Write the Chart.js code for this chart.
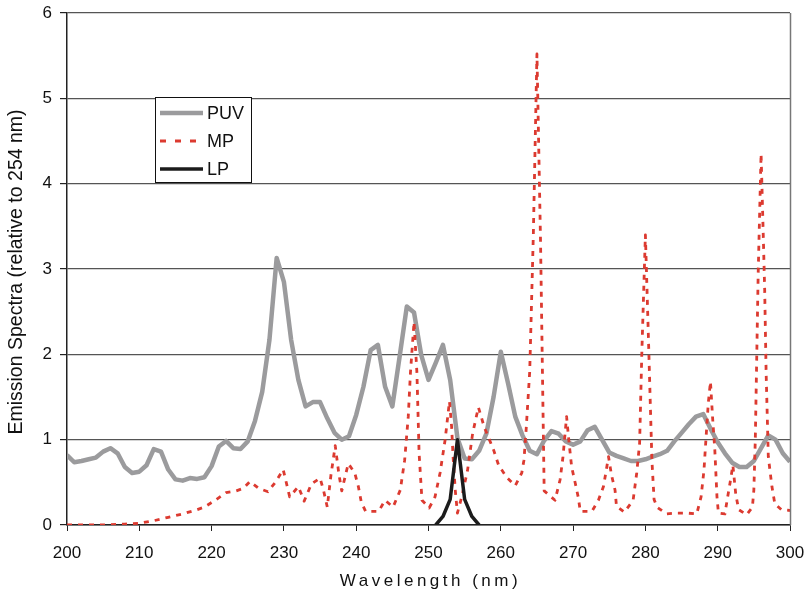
<!DOCTYPE html>
<html>
<head>
<meta charset="utf-8">
<script src="https://cdn.jsdelivr.net/npm/chart.js@4.4.1/dist/chart.umd.min.js"></script>
<style>
  body { margin: 0; background: #fff; }
  #chart { display: block; }
</style>
</head>
<body>
<canvas id="chart" width="808" height="599"></canvas>
<script>
// ---- data ----
const puvWl = [
  200, 201, 202, 203, 204, 205, 206, 207, 208, 209,
  210, 211, 212, 213, 214, 215, 216, 217, 218, 219,
  220, 221, 222, 223, 224, 225, 226, 227, 228, 229,
  230, 231, 232, 233, 234, 235, 236, 237, 238, 239,
  240, 241, 242, 243, 244, 245, 246, 247, 248, 249,
  250, 251, 252, 253, 254, 255, 256, 257, 258, 259,
  260, 261, 262, 263, 264, 265, 266, 267, 268, 269,
  270, 271, 272, 273, 274, 275, 276, 277, 278, 279,
  280, 281, 282, 283, 284, 285, 286, 287, 288, 289,
  290, 291, 292, 293, 294, 295, 296, 297, 298, 299, 300
];
const puvVal = [
  0.82, 0.735, 0.75, 0.77, 0.79, 0.86, 0.90, 0.84, 0.68, 0.61,
  0.625, 0.70, 0.89, 0.86, 0.65, 0.535, 0.52, 0.55, 0.54, 0.56,
  0.69, 0.92, 0.985, 0.90, 0.89, 0.98, 1.22, 1.56, 2.17, 3.13,
  2.85, 2.17, 1.70, 1.39, 1.44, 1.44, 1.25, 1.08, 1.00, 1.04,
  1.29, 1.62, 2.05, 2.11, 1.62, 1.39, 1.97, 2.56, 2.49, 1.99,
  1.70, 1.90, 2.11, 1.70, 1.02, 0.78, 0.77, 0.87, 1.07, 1.50,
  2.03, 1.66, 1.27, 1.05, 0.87, 0.83, 0.99, 1.10, 1.07, 0.98,
  0.94, 0.98, 1.11, 1.15, 1.00, 0.85, 0.81, 0.78, 0.75, 0.75,
  0.77, 0.80, 0.83, 0.87, 0.98, 1.08, 1.18, 1.27, 1.30, 1.13,
  0.97, 0.84, 0.73, 0.68, 0.68, 0.75, 0.90, 1.05, 1.00, 0.84, 0.74
];

const mpWl = [
  200, 205, 208, 210, 212, 214, 216, 218, 219, 220.5,
  222, 223.4, 224.4, 225.3, 226.5, 227.8, 228.9, 229.9, 230.8, 232,
  232.8, 233.8, 235, 235.5, 236, 236.5, 237.1, 237.6, 238, 238.9,
  239.8, 240.3, 240.7, 241.3, 243.1, 244, 245.1, 246.1, 246.7, 247.2,
  247.5, 248, 248.4, 248.7, 249.1, 250.1, 250.9, 251.6, 252.3, 252.9,
  253.2, 253.4, 253.7, 254, 254.6, 255.4, 256.1, 256.9, 257.7, 259,
  259.7, 260.8, 262, 262.9, 263.2, 263.5, 264, 264.5, 265, 265.5,
  266, 267.5, 268.2, 268.6, 269.1, 269.4, 269.8, 270.3, 270.7, 271,
  272.6, 273.5, 274.2, 274.9, 275.3, 275.8, 276, 277.1, 278.3, 278.8,
  279.2, 279.5, 280, 280.4, 280.9, 281.2, 281.6, 282.9, 284.4, 285.7,
  287.1, 287.7, 288.1, 288.4, 288.7, 289, 289.3, 289.6, 289.9, 290.1,
  291, 291.3, 291.7, 292.1, 292.5, 292.9, 294, 294.8, 295, 295.2,
  295.4, 295.6, 296, 296.3, 296.5, 296.7, 297, 297.5, 297.9, 298.8, 300
];
const mpVal = [
  0.00, 0.00, 0.01, 0.02, 0.05, 0.09, 0.13, 0.18, 0.21, 0.29,
  0.38, 0.40, 0.43, 0.51, 0.43, 0.39, 0.51, 0.65, 0.33, 0.45,
  0.28, 0.48, 0.55, 0.40, 0.21, 0.58, 0.93, 0.60, 0.40, 0.72,
  0.61, 0.45, 0.27, 0.16, 0.16, 0.29, 0.21, 0.41, 0.76, 1.27,
  1.78, 2.38, 1.78, 0.84, 0.29, 0.20, 0.33, 0.61, 1.00, 1.45,
  1.15, 0.80, 0.41, 0.14, 0.33, 0.64, 1.07, 1.38, 1.15, 0.88,
  0.70, 0.56, 0.46, 0.61, 0.76, 1.11, 1.80, 3.40, 5.52, 3.30,
  0.40, 0.29, 0.53, 0.80, 1.27, 1.00, 0.68, 0.49, 0.33, 0.16,
  0.16, 0.29, 0.45, 0.80, 0.59, 0.41, 0.22, 0.15, 0.29, 0.61,
  0.96, 2.00, 3.40, 2.25, 0.76, 0.30, 0.21, 0.13, 0.14, 0.14,
  0.13, 0.33, 0.64, 1.04, 1.43, 1.68, 1.25, 0.88, 0.33, 0.14,
  0.13, 0.29, 0.49, 0.70, 0.36, 0.18, 0.12, 0.21, 0.41, 1.00,
  1.97, 2.95, 4.35, 3.40, 2.75, 1.78, 0.80, 0.45, 0.25, 0.18, 0.17
];

const lpWl = [251, 252, 253, 254, 255, 256, 257];
const lpVal = [0, 0.10, 0.30, 1.00, 0.30, 0.10, 0];

const seriesNames = ["PUV", "MP", "LP"];
const xTitle = "Wavelength (nm)";
const yTitle = "Emission Spectra (relative to 254 nm)";

const toPoints = (xs, ys) => xs.map((x, i) => ({ x: x, y: ys[i] }));

// ---- styles ----
const puvColor = "#9b9b9d";
const mpColor = "#dc3a30";
const lpColor = "#1c1c1c";
const fontFam = "'Liberation Sans', Arial, sans-serif";

// titles, legend and right frame line drawn on top
const overlay = {
  id: "overlay",
  afterDraw(chart) {
    const ctx = chart.ctx;
    const a = chart.chartArea;
    ctx.save();

    // right frame line
    ctx.strokeStyle = "#777";
    ctx.lineWidth = 1.5;
    ctx.beginPath();
    ctx.moveTo(a.right + 0.5, a.top);
    ctx.lineTo(a.right + 0.5, a.bottom);
    ctx.stroke();

    // axis titles
    ctx.fillStyle = "#111";
    ctx.textAlign = "center";
    ctx.textBaseline = "middle";
    ctx.font = "17px " + fontFam;
    ctx.letterSpacing = "3.5px";
    ctx.fillText(xTitle, (a.left + a.right) / 2 + 2, 581);
    ctx.letterSpacing = "0px";

    ctx.save();
    ctx.translate(17, 272);
    ctx.rotate(-Math.PI / 2);
    ctx.font = "19.5px " + fontFam;
    ctx.fillText(yTitle, 0, 0);
    ctx.restore();

    // legend box
    const bx = 155.5, by = 97.5, bw = 96, bh = 85;
    ctx.fillStyle = "#fff";
    ctx.fillRect(bx, by, bw, bh);
    ctx.strokeStyle = "#111";
    ctx.lineWidth = 1;
    ctx.strokeRect(bx, by, bw, bh);

    const rows = [
      { color: puvColor, width: 4.5, dash: [], y: 113 },
      { color: mpColor, width: 3, dash: [6, 9], y: 141 },
      { color: lpColor, width: 3.5, dash: [], y: 169 }
    ];
    ctx.textAlign = "left";
    ctx.font = "18px " + fontFam;
    rows.forEach((r, i) => {
      ctx.strokeStyle = r.color;
      ctx.lineWidth = r.width;
      ctx.setLineDash(r.dash);
      ctx.lineCap = "butt";
      ctx.beginPath();
      ctx.moveTo(160, r.y);
      ctx.lineTo(203, r.y);
      ctx.stroke();
      ctx.setLineDash([]);
      ctx.fillStyle = "#111";
      ctx.fillText(seriesNames[i], 207, r.y + 1);
    });

    ctx.restore();
  }
};

new Chart(document.getElementById("chart"), {
  type: "line",
  data: {
    datasets: [
      {
        label: seriesNames[2],
        data: toPoints(lpWl, lpVal),
        borderColor: lpColor,
        borderWidth: 3.5,
        order: 0
      },
      {
        label: seriesNames[1],
        data: toPoints(mpWl, mpVal),
        borderColor: mpColor,
        borderWidth: 2.8,
        borderDash: [5, 6],
        order: 1
      },
      {
        label: seriesNames[0],
        data: toPoints(puvWl, puvVal),
        borderColor: puvColor,
        borderWidth: 4.5,
        order: 2
      }
    ]
  },
  options: {
    responsive: false,
    animation: false,
    elements: {
      point: { radius: 0 },
      line: { tension: 0, borderJoinStyle: "round" }
    },
    layout: { padding: { top: 13, right: 18, left: 0, bottom: 0 } },
    plugins: {
      legend: { display: false },
      tooltip: { enabled: false }
    },
    scales: {
      x: {
        type: "linear",
        min: 200,
        max: 300,
        ticks: {
          stepSize: 10,
          color: "#111",
          padding: 12,
          font: { size: 17, family: fontFam }
        },
        grid: {
          drawOnChartArea: false,
          drawTicks: true,
          tickLength: 6,
          tickColor: "#222"
        },
        border: { color: "#222", width: 1.5 },
        afterFit: s => {
          s.height = 74;
          s.paddingLeft = 0;
          s.paddingRight = 0;
        }
      },
      y: {
        min: 0,
        max: 6,
        ticks: {
          stepSize: 1,
          color: "#111",
          padding: 8,
          font: { size: 17, family: fontFam }
        },
        grid: {
          color: "#555",
          lineWidth: 1.2,
          tickLength: 7,
          tickColor: "#222"
        },
        border: { color: "#222", width: 1.5 },
        afterFit: s => {
          s.width = 67;
          s.paddingTop = 0;
          s.paddingBottom = 0;
        }
      }
    }
  },
  plugins: [overlay]
});
</script>
</body>
</html>
